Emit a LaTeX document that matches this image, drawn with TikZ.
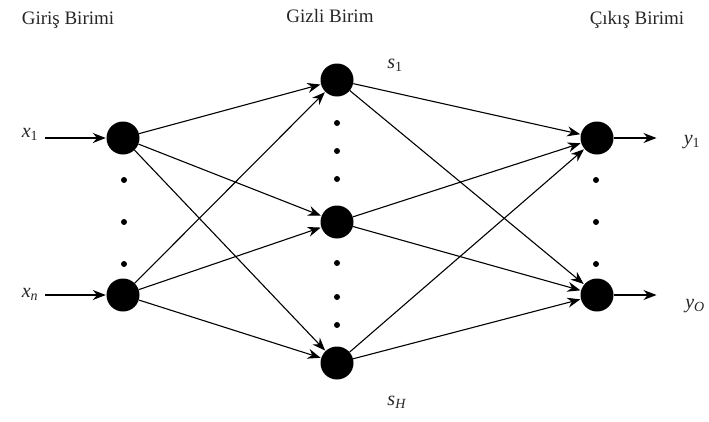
\documentclass[tikz,border=0pt]{standalone}
\usepackage{fontspec}
\setmainfont{Liberation Serif}
\usetikzlibrary{arrows.meta}
\tikzset{
  neuron/.style={circle,fill=black,minimum size=33pt,inner sep=0pt},
  tiny/.style={circle,fill=black,minimum size=6pt,inner sep=0pt},
  conn/.style={-{Stealth[length=13pt,width=10pt]},line width=1.1pt,shorten >=0.5pt},
  title/.style={font=\fontsize{19}{21}\selectfont,text=black!85},
  lab/.style={font=\fontsize{20}{22}\selectfont,text=black!85}
}
\begin{document}
\begin{tikzpicture}[x=1pt,y=-1pt]
\useasboundingbox (0,0) rectangle (709,421);
% titles
\node[title] (t1) at (68,20) {Giriş Birimi};
\node[title] (t2) at (330,16) {Gizli Birim};
\node[title] (t3) at (637,20) {Çıkış Birimi};
% neurons
\node[neuron] (i1) at (123,138) {};
\node[neuron] (in) at (123,295) {};
\node[neuron] (h1) at (337,80) {};
\node[neuron] (h2) at (337,222) {};
\node[neuron] (h3) at (337,363) {};
\node[neuron] (o1) at (597,138) {};
\node[neuron] (oo) at (597,295) {};
% dots
\foreach \y [count=\k] in {180,222,264} {\node[tiny] (di\k) at (124,\y) {};}
\foreach \y [count=\k] in {123,151,179,263,297,325} {\node[tiny] (dh\k) at (337,\y) {};}
\foreach \y [count=\k] in {180,222,264} {\node[tiny] (do\k) at (596,\y) {};}
% labels
\node[lab] (x1) at (30,134) {\textit{x}\textsubscript{1}};
\node[lab] (xn) at (30,294) {\textit{x}\textsubscript{\textit{n}}};
\node[lab] (y1) at (692,142) {\textit{y}\textsubscript{1}};
\node[lab] (yo) at (695,306) {\textit{y}\textsubscript{\textit{O}}};
\node[lab] (s1) at (395,65) {\textit{s}\textsubscript{1}};
\node[lab] (sh) at (397,402) {\textit{s}\textsubscript{\textit{H}}};
% input arrows
\coordinate (a1) at (45,138);
\coordinate (an) at (45,295);
\draw[conn] (a1) -- (i1);
\draw[conn] (an) -- (in);
% output arrows
\coordinate (b1) at (657,138);
\coordinate (bo) at (657,295);
\draw[conn] (o1) -- (b1);
\draw[conn] (oo) -- (bo);
% input to hidden
\foreach \a in {i1,in} \foreach \b in {h1,h2,h3} {\draw[conn] (\a) -- (\b);}
% hidden to output
\foreach \a in {h1,h2,h3} \foreach \b in {o1,oo} {\draw[conn] (\a) -- (\b);}
\end{tikzpicture}
\end{document}
